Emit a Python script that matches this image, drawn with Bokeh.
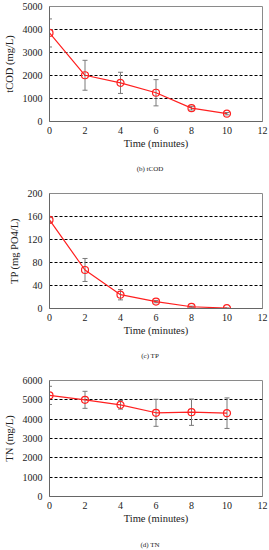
from bokeh.plotting import figure
from bokeh.models import ColumnDataSource, Whisker, FixedTicker, Range1d, TeeHead, Div
from bokeh.layouts import column
from bokeh.embed import file_html
from bokeh.resources import INLINE

time_min = [0, 2, 4, 6, 8, 10]

tcod = [3850, 2010, 1680, 1250, 580, 340]
tcod_err = [610, 650, 460, 570, 80, 50]

tp = [154, 67, 24, 12, 3, 0.5]
tp_err = [4, 20, 9, 2, 1, 0.5]

tn = [5230, 5000, 4740, 4330, 4360, 4310]
tn_err = [470, 440, 220, 700, 680, 790]

x_ticks = [0, 2, 4, 6, 8, 10, 12]
FONT = "'Liberation Serif', 'Times New Roman', serif"
BOTTOM = 34


def make_chart(ys, errs, ylabel, yticks, left, top, frame_h):
    height = top + frame_h + BOTTOM
    p = figure(width=269, height=height, output_backend="svg", toolbar_location=None,
               x_range=Range1d(0, 12), y_range=Range1d(yticks[0], yticks[-1]),
               min_border_left=left, min_border_right=7,
               min_border_top=top, min_border_bottom=BOTTOM)
    p.background_fill_color = "white"
    p.border_fill_color = "white"
    p.outline_line_color = "#8a8a8a"
    p.outline_line_width = 1

    src = ColumnDataSource(dict(x=time_min, y=ys,
                                lo=[a - b for a, b in zip(ys, errs)],
                                hi=[a + b for a, b in zip(ys, errs)]))
    w = Whisker(source=src, base="x", lower="lo", upper="hi",
                line_color="#7a7a7a", line_width=1,
                upper_head=TeeHead(size=5, line_color="#7a7a7a", line_width=1),
                lower_head=TeeHead(size=5, line_color="#7a7a7a", line_width=1))
    p.add_layout(w)
    p.line("x", "y", source=src, line_color="#ff2020", line_width=1.2)
    p.scatter("x", "y", source=src, marker="circle", size=7, fill_color=None,
              line_color="#ff2020", line_width=1.2)

    p.xgrid.visible = False
    p.ygrid.ticker = FixedTicker(ticks=yticks[1:-1])
    p.ygrid.grid_line_color = "black"
    p.ygrid.grid_line_dash = "3 2"
    p.ygrid.grid_line_width = 1

    p.xaxis.ticker = FixedTicker(ticks=x_ticks)
    p.yaxis.ticker = FixedTicker(ticks=yticks)
    for ax in (p.xaxis[0], p.yaxis[0]):
        ax.major_tick_in = 0
        ax.major_tick_out = 0
        ax.minor_tick_in = 0
        ax.minor_tick_out = 0
        ax.axis_line_color = "#666666"
        ax.major_label_text_font = FONT
        ax.major_label_text_font_size = "10px"
        ax.major_label_text_color = "#222222"
        ax.axis_label_text_font = FONT
        ax.axis_label_text_font_size = "10.5px"
        ax.axis_label_text_font_style = "normal"
        ax.axis_label_text_color = "#222222"
    p.xaxis.axis_label = "Time (minutes)"
    p.xaxis.major_label_standoff = 5
    p.xaxis.axis_label_standoff = 1
    p.yaxis.axis_label = ylabel
    p.yaxis.major_label_standoff = 7
    p.yaxis.axis_label_standoff = 5
    return p


def make_caption(text, mtop, mbottom):
    return Div(text=text, width=238, height=9, margin=(mtop, 0, mbottom, 31),
               styles={"font-family": FONT, "font-size": "7px", "line-height": "9px",
                       "text-align": "center", "color": "#222222", "white-space": "nowrap"})


p1 = make_chart(tcod, tcod_err, "tCOD (mg/L)", [0, 1000, 2000, 3000, 4000, 5000], 44, 6, 115)
c1 = make_caption("(b) tCOD", 10, 11)
p2 = make_chart(tp, tp_err, "TP (mg PO4/L)", [0, 40, 80, 120, 160, 200], 39, 8, 115)
c2 = make_caption("(c) TP", 10, 9)
p3 = make_chart(tn, tn_err, "TN (mg/L)", [0, 1000, 2000, 3000, 4000, 5000, 6000], 44, 10, 116)
c3 = make_caption("(d) TN", 11, 0)

layout = column(p1, c1, p2, c2, p3, c3, spacing=0)
html = file_html(layout, INLINE)
html = html.replace("<head>", "<head><style>body{margin:0 !important;}</style>", 1)
open("out.html", "w").write(html)
